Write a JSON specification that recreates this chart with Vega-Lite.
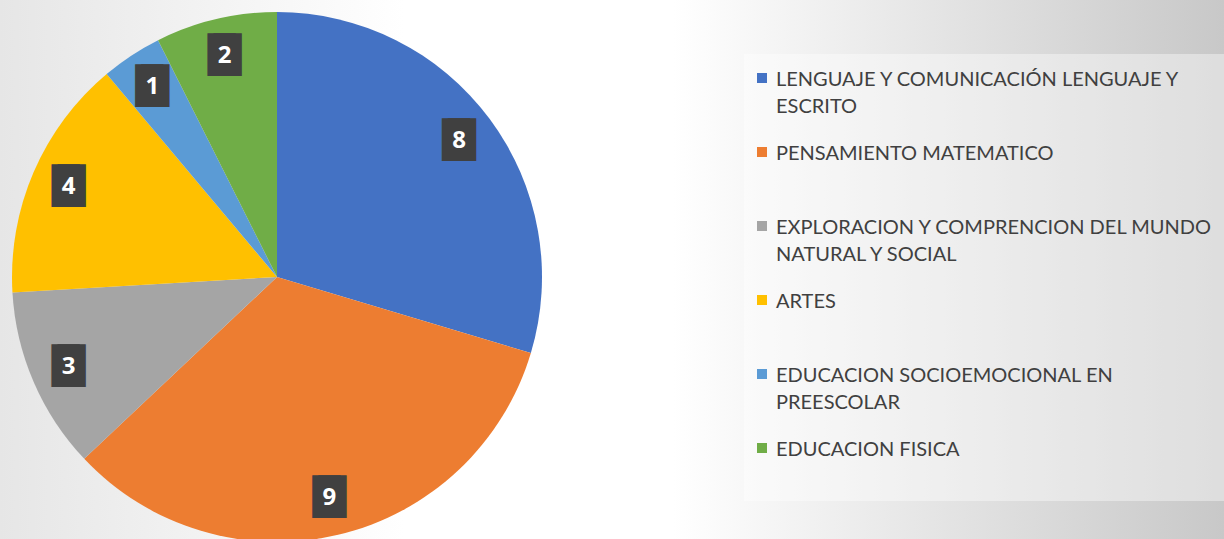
{
  "$schema": "https://vega.github.io/schema/vega-lite/v6.json",
  "width": 1224,
  "height": 539,
  "padding": 0,
  "autosize": {"type": "none"},
  "background": "#ffffff",
  "config": {
    "view": {
      "stroke": null,
      "fill": {
        "gradient": "linear",
        "x1": 0, "y1": 0.5, "x2": 1, "y2": 0.5,
        "stops": [
          {"offset": 0, "color": "#e6e6e6"},
          {"offset": 0.33, "color": "#ffffff"},
          {"offset": 0.55, "color": "#ffffff"},
          {"offset": 1, "color": "#c8c8c8"}
        ]
      }
    },
    "style": {"guide-label": {"lineHeight": 27, "dy": -8}}
  },
  "data": {
    "values": [
      {"idx": 1, "area": "LENGUAJE Y COMUNICACIÓN LENGUAJE Y ESCRITO", "value": 8},
      {"idx": 2, "area": "PENSAMIENTO MATEMATICO", "value": 9},
      {"idx": 3, "area": "EXPLORACION Y COMPRENCION DEL MUNDO NATURAL Y SOCIAL", "value": 3},
      {"idx": 4, "area": "ARTES", "value": 4},
      {"idx": 5, "area": "EDUCACION SOCIOEMOCIONAL EN PREESCOLAR", "value": 1},
      {"idx": 6, "area": "EDUCACION FISICA", "value": 2}
    ]
  },
  "encoding": {
    "theta": {"field": "value", "type": "quantitative", "stack": true},
    "order": {"field": "idx", "type": "quantitative"},
    "x": {"value": 277},
    "y": {"value": 277}
  },
  "layer": [
    {
      "mark": {"type": "arc", "outerRadius": 265},
      "encoding": {
        "color": {
          "field": "area",
          "type": "nominal",
          "sort": null,
          "scale": {
            "domain": [
              "LENGUAJE Y COMUNICACIÓN LENGUAJE Y ESCRITO",
              "PENSAMIENTO MATEMATICO",
              "EXPLORACION Y COMPRENCION DEL MUNDO NATURAL Y SOCIAL",
              "ARTES",
              "EDUCACION SOCIOEMOCIONAL EN PREESCOLAR",
              "EDUCACION FISICA"
            ],
            "range": ["#4472C4", "#ED7D31", "#A5A5A5", "#FFC000", "#5B9BD5", "#70AD47"]
          },
          "legend": {
            "title": null,
            "orient": "none",
            "legendX": 744,
            "legendY": 54,
            "padding": 14,
            "fillColor": "rgba(255,255,255,0.4)",
            "symbolType": "square",
            "symbolSize": 100,
            "symbolStrokeWidth": 0,
            "symbolOffset": -6,
            "labelFont": "Lato",
            "labelFontSize": 20,
            "labelColor": "#404040",
            "labelOffset": 4,
            "labelLimit": 0,
            "labelBaseline": "top",
            "rowPadding": 25,
            "labelExpr": "datum.label == 'LENGUAJE Y COMUNICACIÓN LENGUAJE Y ESCRITO' ? ['LENGUAJE Y COMUNICACIÓN LENGUAJE Y', 'ESCRITO'] : datum.label == 'EXPLORACION Y COMPRENCION DEL MUNDO NATURAL Y SOCIAL' ? ['EXPLORACION Y COMPRENCION DEL MUNDO', 'NATURAL Y SOCIAL'] : datum.label == 'EDUCACION SOCIOEMOCIONAL EN PREESCOLAR' ? ['EDUCACION SOCIOEMOCIONAL EN', 'PREESCOLAR'] : [datum.label, ' ']"
          }
        }
      }
    },
    {
      "mark": {"type": "text", "radius": 227, "text": "█", "font": "DejaVu Sans", "fontSize": 36, "color": "#404040", "dx": -3, "baseline": "middle"}
    },
    {
      "mark": {"type": "text", "radius": 227, "text": "█", "font": "DejaVu Sans", "fontSize": 36, "color": "#404040", "dx": 3, "baseline": "middle"}
    },
    {
      "mark": {"type": "text", "radius": 227, "font": "Open Sans", "fontWeight": "bold", "fontSize": 24, "color": "#ffffff", "baseline": "middle"},
      "encoding": {"text": {"field": "value", "type": "quantitative"}}
    }
  ]
}
